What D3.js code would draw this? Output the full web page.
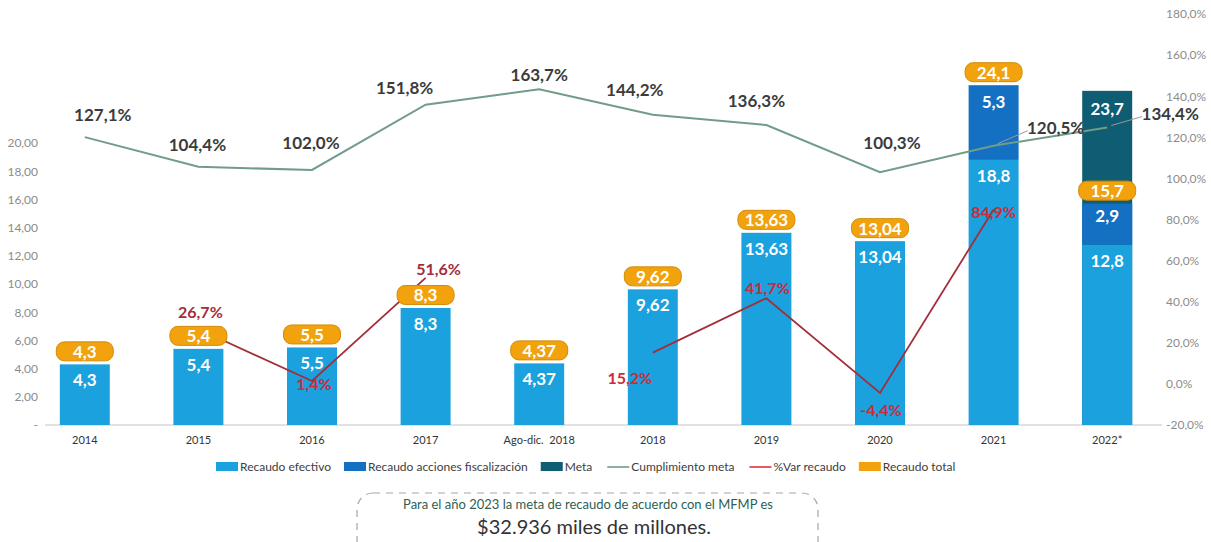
<!DOCTYPE html>
<html>
<head>
<meta charset="utf-8">
<script src="https://cdn.jsdelivr.net/npm/d3@7"></script>
<style>
  body { margin: 0; background: #fff; }
  svg { display: block; font-family: Lato, "Open Sans", sans-serif; }
</style>
</head>
<body>
<div id="chart"></div>
<script>
'use strict';

// data
var categories = ["2014", "2015", "2016", "2017", "Ago-dic.\u00a0 2018", "2018", "2019", "2020", "2021", "2022*"];
var recaudoEfectivo = [4.3, 5.4, 5.5, 8.3, 4.37, 9.62, 13.63, 13.04, 18.8, 12.8];
var accionesFiscalizacion = [0, 0, 0, 0, 0, 0, 0, 0, 5.3, 2.9];
var meta = [null, null, null, null, null, null, null, null, null, 23.7];
var recaudoTotal = [4.3, 5.4, 5.5, 8.3, 4.37, 9.62, 13.63, 13.04, 24.1, 15.7];
var cumplimientoMeta = [127.1, 104.4, 102.0, 151.8, 163.7, 144.2, 136.3, 100.3, 120.5, 134.4];
var varRecaudo = [null, 26.7, 1.4, 51.6, null, 15.2, 41.7, -4.4, 84.9, null];
var leftTicks = [0, 2, 4, 6, 8, 10, 12, 14, 16, 18, 20];
var rightTicks = [-20, 0, 20, 40, 60, 80, 100, 120, 140, 160, 180];

var colors = {
    efectivo: "#1ba1dd",
    fiscalizacion: "#1470c2",
    meta: "#0f5d73",
    cumplimiento: "#709c89",
    varRecaudo: "#a42d3a",
    varLegend: "#e2343b",
    total: "#f1a20d",
    totalStroke: "#d38b08",
    axisText: "#8c8c8c"
};

var width = 1211,
    height = 542,
    baseY = 425,
    topY = 14;

function comma (v) { return String(v).replace(".", ","); }
var pct = function (v) { return d3.format(".1f")(v).replace(".", ",").replace("−", "-") + "%"; };

var svg = d3.select("#chart").append("svg")
    .attr("width", width)
    .attr("height", height);

var x = d3.scaleBand()
    .domain(categories)
    .range([28, 1164])
    .paddingInner(0.56)
    .paddingOuter(0.28);

var yLeft = d3.scaleLinear().domain([0, 29.15]).range([baseY, topY]);
var yRight = d3.scaleLinear().domain([-20, 180]).range([baseY, topY]);
// cumplimiento line sits on its own hidden secondary scale in the original
var yCum = d3.scaleLinear().domain([100, 160]).range([172.6, 94]);

var cx = function (i) { return x(categories[i]) + x.bandwidth() / 2; };

// axes
svg.append("g")
    .attr("transform", "translate(45,0)")
    .call(d3.axisLeft(yLeft).tickValues(leftTicks).tickSize(0).tickPadding(7)
        .tickFormat(function (d) { return d === 0 ? "-" : d3.format(".2f")(d).replace(".", ","); }))
    .call(function (g) { g.select(".domain").remove(); })
    .selectAll("text")
    .attr("fill", colors.axisText)
    .style("font-size", "12px")
    .style("font-family", "Lato, sans-serif");

svg.append("g")
    .attr("transform", "translate(1164,0)")
    .call(d3.axisRight(yRight).tickValues(rightTicks).tickSize(0).tickPadding(2)
        .tickFormat(pct))
    .call(function (g) { g.select(".domain").remove(); })
    .selectAll("text")
    .attr("fill", colors.axisText)
    .style("font-size", "12px")
    .style("font-family", "Lato, sans-serif");

svg.append("g")
    .attr("transform", "translate(0," + baseY + ")")
    .call(d3.axisBottom(x).tickSize(0).tickPadding(11))
    .call(function (g) { g.select(".domain").remove(); })
    .selectAll("text")
    .attr("fill", "#333")
    .style("font-size", "11px")
    .style("font-family", "Lato, sans-serif");

svg.append("line")
    .attr("x1", 45).attr("x2", 1162)
    .attr("y1", baseY).attr("y2", baseY)
    .attr("stroke", "#c4c4c4")
    .attr("stroke-width", 1);

var bars = svg.append("g");

// meta drawn behind the stacked bars
var metaData = meta.map(function (v, i) { return {v: v, i: i}; })
    .filter(function (d) { return d.v != null; });

bars.selectAll("rect.meta")
    .data(metaData)
    .enter().append("rect")
    .attr("class", "meta")
    .attr("x", function (d) { return x(categories[d.i]); })
    .attr("width", x.bandwidth())
    .attr("y", function (d) { return yLeft(d.v); })
    .attr("height", function (d) { return baseY - yLeft(d.v); })
    .attr("fill", colors.meta);

bars.selectAll("rect.efectivo")
    .data(recaudoEfectivo)
    .enter().append("rect")
    .attr("class", "efectivo")
    .attr("x", function (d, i) { return x(categories[i]); })
    .attr("width", x.bandwidth())
    .attr("y", function (d) { return yLeft(d); })
    .attr("height", function (d) { return baseY - yLeft(d); })
    .attr("fill", colors.efectivo);

var fisc = accionesFiscalizacion.map(function (v, i) {
    return {v: v, i: i, y0: recaudoEfectivo[i], y1: recaudoEfectivo[i] + v};
}).filter(function (d) { return d.v > 0; });

bars.selectAll("rect.fisc")
    .data(fisc)
    .enter().append("rect")
    .attr("class", "fisc")
    .attr("x", function (d) { return x(categories[d.i]); })
    .attr("width", x.bandwidth())
    .attr("y", function (d) { return yLeft(d.y1); })
    .attr("height", function (d) { return yLeft(d.y0) - yLeft(d.y1); })
    .attr("fill", colors.fiscalizacion);

// white value labels inside the bars
var barLabels = svg.append("g")
    .attr("fill", "#fff")
    .attr("text-anchor", "middle")
    .style("font-weight", "bold")
    .style("font-size", "17px");

barLabels.selectAll("text.ef")
    .data(recaudoEfectivo)
    .enter().append("text")
    .attr("x", function (d, i) { return cx(i); })
    .attr("y", function (d) { return yLeft(d) + 22; })
    .text(comma);

barLabels.selectAll("text.fi")
    .data(fisc)
    .enter().append("text")
    .attr("x", function (d) { return cx(d.i); })
    .attr("y", function (d) { return yLeft(d.y1) + (d.v > 4 ? 23 : 18); })
    .text(function (d) { return comma(d.v); });

barLabels.selectAll("text.me")
    .data(metaData)
    .enter().append("text")
    .attr("x", function (d) { return cx(d.i); })
    .attr("y", function (d) { return yLeft(d.v) + 24; })
    .text(function (d) { return comma(d.v); });

// cumplimiento meta line
var cumLine = d3.line()
    .x(function (d, i) { return cx(i); })
    .y(function (d) { return yCum(d); });

svg.append("path")
    .datum(cumplimientoMeta)
    .attr("d", cumLine)
    .attr("fill", "none")
    .attr("stroke", colors.cumplimiento)
    .attr("stroke-width", 2);

// %var recaudo line (gaps where no value)
var varLine = d3.line()
    .defined(function (d) { return d != null; })
    .x(function (d, i) { return cx(i); })
    .y(function (d) { return yRight(d); });

svg.append("path")
    .datum(varRecaudo)
    .attr("d", varLine)
    .attr("fill", "none")
    .attr("stroke", colors.varRecaudo)
    .attr("stroke-width", 1.8);

// recaudo total pills
var pills = svg.append("g")
    .selectAll("g")
    .data(recaudoTotal)
    .enter().append("g")
    .attr("transform", function (d, i) {
        return "translate(" + cx(i) + "," + (yLeft(d) - 13) + ")";
    });

pills.append("rect")
    .attr("x", -28.5)
    .attr("y", -9.5)
    .attr("width", 57)
    .attr("height", 19)
    .attr("rx", 8)
    .attr("fill", colors.total)
    .attr("stroke", colors.totalStroke)
    .attr("stroke-width", 1);

pills.append("text")
    .attr("text-anchor", "middle")
    .attr("y", 6.5)
    .attr("fill", "#fff")
    .style("font-weight", "bold")
    .style("font-size", "17px")
    .text(comma);

// cumplimiento labels: [dx, dy, leader]
var cumOffsets = [[18, -16], [-1, -16], [-1, -21], [-21, -11], [0, -8], [-18, -19], [-10, -18], [12, -23], [62, -12, true], [63, -8, true]];

var cumLabels = svg.append("g");

cumLabels.selectAll("line")
    .data(cumplimientoMeta.map(function (v, i) { return {v: v, i: i, o: cumOffsets[i]}; })
        .filter(function (d) { return d.o[2]; }))
    .enter().append("line")
    .attr("x1", function (d) { return cx(d.i) + 4; })
    .attr("y1", function (d) { return yCum(d.v) - 2; })
    .attr("x2", function (d) { return cx(d.i) + d.o[0] - 28; })
    .attr("y2", function (d) { return yCum(d.v) + d.o[1] - 3; })
    .attr("stroke", "#9a9a9a")
    .attr("stroke-width", 1);

cumLabels.selectAll("text")
    .data(cumplimientoMeta)
    .enter().append("text")
    .attr("text-anchor", "middle")
    .attr("x", function (d, i) { return cx(i) + cumOffsets[i][0]; })
    .attr("y", function (d, i) { return yCum(d) + cumOffsets[i][1]; })
    .attr("fill", "#3b3b3b")
    .style("font-weight", "bold")
    .style("font-size", "17px")
    .text(pct);

// %var labels
var varOffsets = [null, [2, -11], [2, 9], [13, -3], null, [-23, 31], [1, -4], [1, 23], [0, 9], null];

svg.append("g")
    .selectAll("text")
    .data(varRecaudo.map(function (v, i) { return {v: v, i: i}; }).filter(function (d) { return d.v != null; }))
    .enter().append("text")
    .attr("text-anchor", "middle")
    .attr("x", function (d) { return cx(d.i) + varOffsets[d.i][0]; })
    .attr("y", function (d) { return yRight(d.v) + varOffsets[d.i][1]; })
    .attr("fill", function (d) { return d.i === 1 || d.i === 3 ? colors.varRecaudo : "#cf2a36"; })
    .style("font-weight", "bold")
    .style("font-size", "16px")
    .text(function (d) { return pct(d.v); });

// legend
var legendItems = [
    {label: "Recaudo efectivo", color: colors.efectivo, type: "rect"},
    {label: "Recaudo acciones fiscalización", color: colors.fiscalizacion, type: "rect"},
    {label: "Meta", color: colors.meta, type: "rect"},
    {label: "Cumplimiento meta", color: colors.cumplimiento, type: "line"},
    {label: "%Var recaudo", color: colors.varLegend, type: "line"},
    {label: "Recaudo total", color: colors.total, type: "rect"}
];

var legend = svg.append("g").attr("transform", "translate(0,467)");
var lx = 216;
legendItems.forEach(function (item) {
    if (item.type === "rect") {
        legend.append("rect")
            .attr("x", lx).attr("y", -5)
            .attr("width", 22).attr("height", 9)
            .attr("fill", item.color);
    } else {
        lx += 2;
        legend.append("line")
            .attr("x1", lx).attr("x2", lx + 22)
            .attr("y1", 0).attr("y2", 0)
            .attr("stroke", item.color)
            .attr("stroke-width", 1.6);
    }
    lx += 24;
    var t = legend.append("text")
        .attr("x", lx)
        .attr("y", 4)
        .attr("fill", "#404040")
        .style("font-size", "12px")
        .text(item.label);
    lx += t.node().getComputedTextLength() + 13;
});

// note box
var note = svg.append("g");
note.append("rect")
    .attr("x", 357).attr("y", 493)
    .attr("width", 461).attr("height", 70)
    .attr("rx", 16)
    .attr("fill", "none")
    .attr("stroke", "#a6a6a6")
    .attr("stroke-width", 1.2)
    .attr("stroke-dasharray", "7,6");

note.append("text")
    .attr("x", 588).attr("y", 509)
    .attr("text-anchor", "middle")
    .attr("fill", "#2e5f52")
    .style("font-size", "13px")
    .text("Para el año 2023 la meta de recaudo de acuerdo con el MFMP es");

note.append("text")
    .attr("x", 594).attr("y", 534)
    .attr("text-anchor", "middle")
    .attr("fill", "#333")
    .style("font-size", "20px")
    .text("$32.936 miles de millones.");
</script>
</body>
</html>
